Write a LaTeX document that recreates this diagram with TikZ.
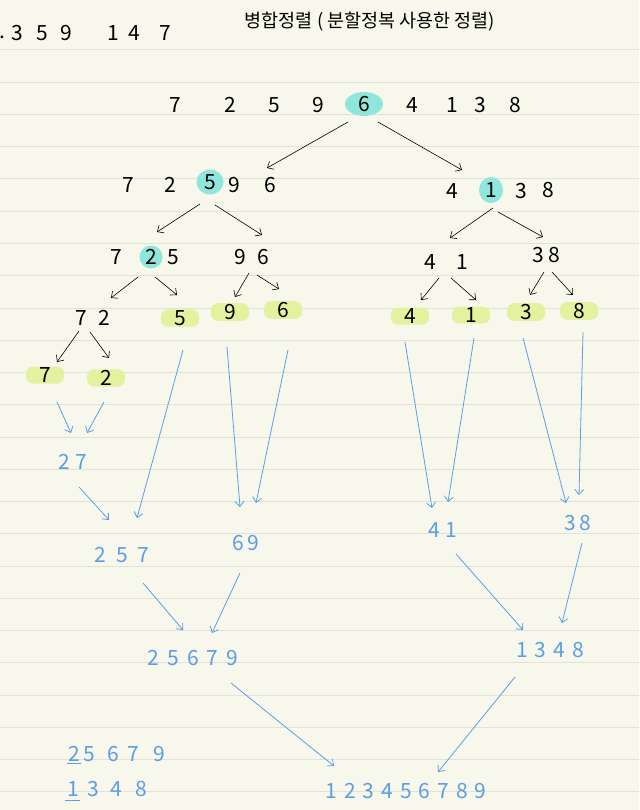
\documentclass[tikz,border=0pt]{standalone}
\usepackage{fontspec}
\setmainfont{Noto Sans CJK KR}
\usetikzlibrary{arrows.meta,shapes.geometric}
\definecolor{paper}{HTML}{F8F7EC}
\definecolor{ruled}{HTML}{E3E2D8}
\definecolor{hlcyan}{HTML}{8EE6DC}
\definecolor{hlyellow}{HTML}{E4F19E}
\definecolor{blueink}{HTML}{5B9EE6}
\newcommand{\gap}[1]{\hspace{#1pt}}

\begin{document}
\begin{tikzpicture}[x=1pt, y=-1pt,
    every node/.style={font=\fontsize{21}{21}\selectfont, inner sep=1pt},
    pivot/.style={ellipse, fill=hlcyan, inner sep=0pt},
    leaf/.style={fill=hlyellow, rounded corners=7pt, minimum width=38pt, minimum height=17pt},
    blk/.style={-{Straight Barb[length=5pt,width=9pt]}, line width=0.6pt, black},
    blu/.style={-{Straight Barb[length=5pt,width=9pt]}, line width=0.8pt, blueink},
    bnum/.style={text=blueink}]

    % 공책 바탕
    \useasboundingbox (0,0) rectangle (639,810);
    \fill[paper] (0,0) rectangle (639,810);
    \foreach \k in {0,...,23}
        \draw[ruled, line width=1pt] (0,{50+32.25*\k}) -- (639,{50+32.25*\k});

    % 제목
    \node (tdot) at (2,37) {.};
    \node (t359) at (42,33) {3\gap{13}5\gap{13}9};
    \node (t147) at (139,33) {1\gap{10}4\gap{19}7};
    \node[font=\fontsize{18.5}{18.5}\selectfont] (title) at (370,22) {병합정렬 ( 분할정복 사용한 정렬)};

    % 처음 배열
    \node (a1) at (175,105) {7};
    \node (a2) at (230,105) {2};
    \node (a3) at (274,105) {5};
    \node (a4) at (318,105) {9};
    \node[pivot, minimum width=38pt, minimum height=24pt] (a5) at (364,104) {6};
    \node (a6) at (412,105) {4};
    \node (a7) at (452,105) {1};
    \node (a8) at (480,105) {3};
    \node (a9) at (515,105) {8};

    % 둘로 나눔
    \node (b1) at (128,185) {7};
    \node (b2) at (170,185) {2};
    \node[pivot, minimum width=27pt, minimum height=25pt] (b3) at (210,182) {5};
    \node (b4) at (234,185) {9};
    \node (b5) at (270,185) {6};
    \node (c1) at (452,191) {4};
    \node[pivot, minimum width=24pt, minimum height=26pt] (c2) at (491,190) {1};
    \node (c3) at (521,191) {3};
    \node (c4) at (548,190) {8};

    % 한 번 더 나눔
    \node (d1) at (116,257) {7};
    \node[pivot, minimum width=23pt, minimum height=23pt] (d2) at (151,257) {2};
    \node (d3) at (173,257) {5};
    \node (e1) at (240,257) {9};
    \node (e2) at (263,257) {6};
    \node (f1) at (430,262) {4};
    \node (f2) at (462,262) {1};
    \node (g1) at (538,255) {3};
    \node (g2) at (554,255) {8};

    % 하나씩 남은 것
    \node (h1) at (81,318) {7};
    \node (h2) at (104,318) {2};
    \node[leaf] (l5) at (180,318) {5};
    \node[leaf] (l9) at (230,312) {9};
    \node[leaf] (l6) at (283,310) {6};
    \node[leaf] (l4) at (410,316) {4};
    \node[leaf] (l1) at (471,315) {1};
    \node[leaf] (l3) at (526,312) {3};
    \node[leaf] (l8) at (579,311) {8};
    \node[leaf] (l7) at (45,375) {7};
    \node[leaf] (l2) at (106,378) {2};

    % 나누는 화살표
    \draw[blk] ([shift={(-16,18)}]a5.center) -- ([shift={(-3,-17)}]b5.center);
    \draw[blk] ([shift={(14,18)}]a5.center) -- ([shift={(10,-21)}]c1.center);
    \draw[blk] ([shift={(-10,22)}]b3.center) -- ([shift={(6,-25)}]d2.center);
    \draw[blk] ([shift={(5,23)}]b3.center) -- ([shift={(-1,-22)}]e2.center);
    \draw[blk] ([shift={(2,18)}]c2.center) -- ([shift={(20,-24)}]f1.center);
    \draw[blk] ([shift={(7,22)}]c2.center) -- ([shift={(5,-18)}]g1.center);
    \draw[blk] ([shift={(-13,20)}]d2.center) -- ([shift={(7,-20)}]h2.center);
    \draw[blk] ([shift={(4,20)}]d2.center) -- ([shift={(-3,-23)}]l5.center);
    \draw[blk] ([shift={(9,16)}]e1.center) -- ([shift={(5,-15)}]l9.center);
    \draw[blk] ([shift={(-6,18)}]e2.center) -- ([shift={(-4,-21)}]l6.center);
    \draw[blk] ([shift={(9,16)}]f1.center) -- ([shift={(11,-16)}]l4.center);
    \draw[blk] ([shift={(-11,16)}]f2.center) -- ([shift={(5,-15)}]l1.center);
    \draw[blk] ([shift={(6,17)}]g1.center) -- ([shift={(4,-17)}]l3.center);
    \draw[blk] ([shift={(-2,17)}]g2.center) -- ([shift={(-6,-16)}]l8.center);
    \draw[blk] ([shift={(-2,13)}]h1.center) -- ([shift={(12,-13)}]l7.center);
    \draw[blk] ([shift={(-14,14)}]h2.center) -- ([shift={(3,-20)}]l2.center);

    % 합치는 단계 (파란색)
    \node[bnum] (m27) at (73,462) {2\gap{5}7};
    \node[bnum] (m257) at (122,555) {2\gap{10}5\gap{10}7};
    \node[bnum] (m69) at (246,543) {6\gap{3}9};
    \node[bnum] (m41) at (443,530) {4\gap{6}1};
    \node[bnum] (m38) at (578,523) {3\gap{3}8};
    \node[bnum] (m25679) at (193,658) {2\gap{8}5\gap{8}6\gap{8}7\gap{8}9};
    \node[bnum] (m1348) at (550,650) {1\gap{7}3\gap{7}4\gap{7}8};
    \node[bnum] (mall) at (406,791) {1\gap{7}2\gap{7}3\gap{7}4\gap{7}5\gap{7}6\gap{7}7\gap{7}8\gap{7}9};

    \draw[blu] ([shift={(12,27)}]l7.center) -- ([shift={(-2,-29)}]m27.center);
    \draw[blu] ([shift={(-2,24)}]l2.center) -- ([shift={(14,-29)}]m27.center);
    \draw[blu] ([shift={(6,25)}]m27.center) -- ([shift={(-13,-35)}]m257.center);
    \draw[blu] ([shift={(3,32)}]l5.center) -- ([shift={(15,-37)}]m257.center);
    \draw[blu] ([shift={(-3,35)}]l9.center) -- ([shift={(-6,-36)}]m69.center);
    \draw[blu] ([shift={(5,40)}]l6.center) -- ([shift={(10,-40)}]m69.center);
    \draw[blu] ([shift={(-5,26)}]l4.center) -- ([shift={(-11,-22)}]m41.center);
    \draw[blu] ([shift={(3,23)}]l1.center) -- ([shift={(5,-28)}]m41.center);
    \draw[blu] ([shift={(-3,26)}]l3.center) -- ([shift={(-12,-20)}]m38.center);
    \draw[blu] ([shift={(4,21)}]l8.center) -- ([shift={(1,-28)}]m38.center);
    \draw[blu] ([shift={(21,28)}]m257.center) -- ([shift={(-10,-28)}]m25679.center);
    \draw[blu] ([shift={(-6,30)}]m69.center) -- ([shift={(19,-25)}]m25679.center);
    \draw[blu] ([shift={(13,24)}]m41.center) -- ([shift={(-27,-20)}]m1348.center);
    \draw[blu] ([shift={(4,20)}]m38.center) -- ([shift={(12,-27)}]m1348.center);
    \draw[blu] ([shift={(38,25)}]m25679.center) -- ([shift={(-72,-25)}]mall.center);
    \draw[blu] ([shift={(-35,27)}]m1348.center) -- ([shift={(32,-19)}]mall.center);

    % 옆에 적은 비교
    \node[bnum, anchor=base west] (s1) at (67,761) {2\gap{4}5\gap{12}6\gap{8}7\gap{15}9};
    \node[bnum, anchor=base west] (s2) at (66,796) {1\gap{9}3\gap{11}4\gap{13}8};
    \draw[blueink, line width=0.8pt] ([shift={(0,2)}]s1.base west) -- ++(14,0);
    \draw[blueink, line width=0.8pt] ([shift={(-1,4)}]s2.base west) -- ++(15,0);

\end{tikzpicture}
\end{document}
